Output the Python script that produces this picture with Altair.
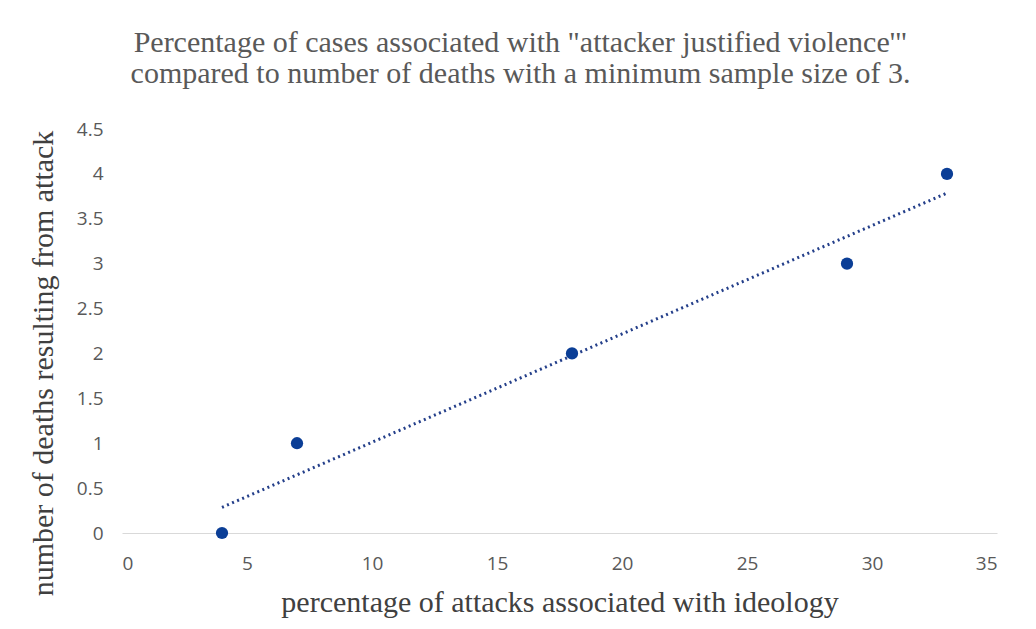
import altair as alt
import pandas as pd

pct_attacks = [4, 7, 18, 29, 33]
deaths = [0, 1, 2, 3, 4]
x_ticks = [0, 5, 10, 15, 20, 25, 30, 35]
y_ticks = [0, 0.5, 1, 1.5, 2, 2.5, 3, 3.5, 4, 4.5]

df = pd.DataFrame({"x": pct_attacks, "y": deaths})

SERIF = "Liberation Serif, Times New Roman, serif"
SANS = "Open Sans, Lato, sans-serif"

xs = alt.Scale(domain=[0, 35], nice=False, zero=False)
ys = alt.Scale(domain=[0, 4.5], nice=False, zero=False)

x_axis = alt.Axis(
    values=x_ticks, grid=False, ticks=False, domain=True, domainColor="#d9d9d9",
    domainWidth=1, labelFont=SANS, labelFontSize=19, labelColor="#595959",
    labelPadding=21, title="percentage of attacks associated with ideology",
    titleFont=SERIF, titleFontSize=30, titleFontWeight="normal",
    titleColor="#404040", titlePadding=14,
)
y_axis = alt.Axis(
    values=y_ticks, format="~g", grid=False, ticks=False, domain=False,
    labelFont=SANS, labelFontSize=19, labelColor="#595959", labelPadding=19,
    title="number of deaths resulting from attack",
    titleFont=SERIF, titleFontSize=30, titleFontWeight="normal",
    titleColor="#404040", titleX=-79, titleY=234, titleBaseline="middle",
    titleAlign="center", titleAngle=-90,
)

points = alt.Chart(df).mark_circle(size=150, color="#0b3e96", opacity=1).encode(
    x=alt.X("x:Q", scale=xs, axis=x_axis),
    y=alt.Y("y:Q", scale=ys, axis=y_axis),
)

trend = alt.Chart(df).transform_regression("x", "y", extent=[4, 33]).mark_line(
    color="#243f8a", strokeWidth=3, strokeDash=[2, 3.5]
).encode(x=alt.X("x:Q", scale=xs), y=alt.Y("y:Q", scale=ys))

chart = alt.layer(trend, points).properties(
    width=875, height=404,
    autosize=alt.AutoSizeParams(type="none"),
    padding={"left": 114, "top": 121, "right": 31, "bottom": 88},
    background="white",
    title=alt.TitleParams(
        text=['Percentage of cases associated with "attacker justified violence\'"',
              "compared to number of deaths with a minimum sample size of 3."],
        font=SERIF, fontSize=30, fontWeight="normal", color="#595959",
        anchor="middle", dx=-39, offset=31, lineHeight=31,
    ),
).configure_view(stroke=None)

chart.save("out.html", embed_options={"renderer": "svg", "actions": False})
